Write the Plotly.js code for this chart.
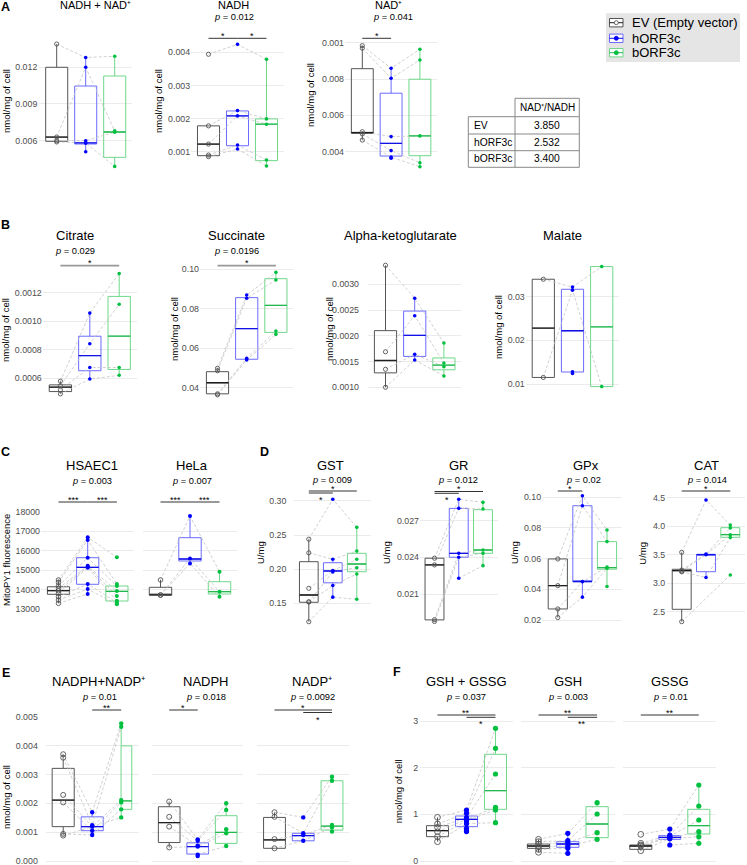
<!DOCTYPE html>
<html><head><meta charset="utf-8">
<script src="https://cdn.plot.ly/plotly-3.0.1.min.js"></script>
<style>html,body{margin:0;padding:0;background:#fff}#chart{width:747px;height:865px}</style>
</head><body><div id="chart"></div>
<script>
const W = 747, H = 865;
const FONT = 'Liberation Sans, Arial, Helvetica, sans-serif';
const groups = ['EV (Empty vector)', 'hORF3c', 'bORF3c'];

// ---- Panel A: NADH + NAD+ ----
const A1_ev = [0.0139, 0.0063, 0.0060, 0.0059];
const A1_h = [0.0128, 0.0120, 0.0060, 0.0058, 0.0051];
const A1_b = [0.0129, 0.0068, 0.0067, 0.0039];
const A1_box = [[0.0059, 0.00595, 0.0063, 0.0120, 0.0139], [0.0051, 0.00573, 0.00582, 0.01047, 0.0128], [0.0039, 0.00464, 0.00671, 0.01129, 0.0129]];
const A1_ticks = [0.006, 0.009, 0.012], A1_tt = ['0.006', '0.009', '0.012'];
// NADH
const A2_ev = [0.00394, 0.00178, 0.00123, 0.0009, 0.00085];
const A2_h = [0.00424, 0.00224, 0.00208, 0.0012, 0.00108];
const A2_b = [0.00379, 0.00199, 0.00183, 0.00075, 0.00057];
const A2_box = [[0.00085, 0.00088, 0.00123, 0.00178, 0.00178], [0.00108, 0.00118, 0.00208, 0.00223, 0.00224], [0.00057, 0.00073, 0.00183, 0.00199, 0.00379]];
const A2_ticks = [0.001, 0.002, 0.003, 0.004], A2_tt = ['0.001', '0.002', '0.003', '0.004'];
// NAD+
const A3_ev = [0.00984, 0.0097, 0.0051, 0.00498, 0.00464];
const A3_h = [0.00859, 0.00804, 0.00483, 0.00406, 0.0037, 0.00364];
const A3_b = [0.00964, 0.00905, 0.00487, 0.00339, 0.00317];
const A3_box = [[0.00464, 0.00501, 0.00505, 0.00857, 0.00984], [0.00364, 0.00376, 0.00446, 0.00722, 0.00859], [0.00317, 0.00378, 0.00487, 0.00799, 0.00964]];
const A3_ticks = [0.004, 0.006, 0.008, 0.010], A3_tt = ['0.004', '0.006', '0.008', '0.001'];
// NAD+/NADH table
const tableRows = ['EV', 'hORF3c', 'bORF3c'];
const tableVals = ['3.850', '2.532', '3.400'];

// ---- Panel B ----
const B1_ev = [0.00058, 0.000547, 0.000519, 0.000491];
const B1_h = [0.001057, 0.000842, 0.000676, 0.000595];
const B1_b = [0.001334, 0.001119, 0.000676, 0.000621];
const B1_box = [[0.000491, 0.000507, 0.000538, 0.000554, 0.00058], [0.000595, 0.000653, 0.000759, 0.000895, 0.001057], [0.000621, 0.000662, 0.000895, 0.001174, 0.001334]];
const B1_ticks = [0.0006, 0.0008, 0.0010, 0.0012], B1_tt = ['0.0006', '0.0008', '0.0010', '0.0012'];
const B2_ev = [0.0497, 0.0485, 0.0368, 0.0363];
const B2_h = [0.0868, 0.0852, 0.0548, 0.0539];
const B2_b = [0.0983, 0.0944, 0.0686, 0.0669];
const B2_box = [[0.0363, 0.0368, 0.0424, 0.048, 0.0497], [0.0539, 0.0543, 0.0698, 0.0855, 0.0868], [0.0669, 0.0679, 0.0816, 0.0951, 0.0983]];
const B2_ticks = [0.04, 0.06, 0.08, 0.10], B2_tt = ['0.04', '0.06', '0.08', '0.10'];
const B3_ev = [0.00337, 0.00169, 0.00135, 0.0010];
const B3_h = [0.00273, 0.00239, 0.00164, 0.00153];
const B3_b = [0.00186, 0.00147, 0.0014, 0.00122];
const B3_box = [[0.0010, 0.00128, 0.00152, 0.0021, 0.00337], [0.00153, 0.0016, 0.00201, 0.00248, 0.00273], [0.00122, 0.00134, 0.00143, 0.00157, 0.00186]];
const B3_ticks = [0.0010, 0.0015, 0.0020, 0.0025, 0.0030], B3_tt = ['0.0010', '0.0015', '0.0020', '0.0025', '0.0030'];
const B4_ev = [0.034, 0.0115];
const B4_h = [0.0322, 0.0315, 0.0128, 0.0124];
const B4_b = [0.0369, 0.0094];
const B4_box = [[0.0115, 0.0115, 0.0228, 0.034, 0.034], [0.0124, 0.01275, 0.0222, 0.0317, 0.0322], [0.0094, 0.0094, 0.0231, 0.0369, 0.0369]];
const B4_ticks = [0.01, 0.02, 0.03], B4_tt = ['0.01', '0.02', '0.03'];

// ---- Panel C: MitoPY1 ----
const C1_ev = [14497, 14379, 14190, 14072, 13949, 13815, 13641, 13472, 13302];
const C1_h = [16690, 16550, 15640, 15230, 15180, 15130, 14290, 14030, 13780];
const C1_b = [15660, 14290, 14190, 13930, 13677, 13436, 13333, 13251];
const C1_box = [[13302, 13764, 13950, 14150, 14497], [13780, 14277, 15149, 15641, 16687], [13251, 13420, 13917, 14190, 14290]];
const C2_ev = [14500, 13730, 13720];
const C2_h = [17780, 15600, 15350];
const C2_b = [14923, 13897, 13641];
const C2_box = [[13720, 13725, 13730, 14123, 14500], [15350, 15472, 15574, 16667, 17780], [13641, 13780, 13897, 14410, 14923]];
const C_ticks = [13000, 14000, 15000, 16000, 17000, 18000], C_tt = ['13000', '14000', '15000', '16000', '17000', '18000'];

// ---- Panel D: enzymes ----
const D1_ev = [0.244, 0.224, 0.172, 0.152, 0.152, 0.123];
const D1_h = [0.3025, 0.2145, 0.198, 0.196, 0.176, 0.159];
const D1_b = [0.2614, 0.2267, 0.2145, 0.2022, 0.193, 0.1559];
const D1_box = [[0.123, 0.1515, 0.1622, 0.211, 0.244], [0.159, 0.18, 0.1974, 0.2095, 0.2145], [0.1559, 0.1963, 0.2076, 0.2233, 0.2614]];
const D1_ticks = [0.15, 0.20, 0.25, 0.30], D1_tt = ['0.15', '0.20', '0.25', '0.30'];
const D2_ev = [0.02393, 0.02338, 0.0189, 0.01875];
const D2_h = [0.02875, 0.02801, 0.02433, 0.02401, 0.02229];
const D2_b = [0.0285, 0.02796, 0.0246, 0.02433, 0.02332];
const D2_box = [[0.01875, 0.01888, 0.02338, 0.02393, 0.02393], [0.02229, 0.02401, 0.02433, 0.02801, 0.02875], [0.02332, 0.02433, 0.0246, 0.0279, 0.0285]];
const D2_ticks = [0.021, 0.024, 0.027], D2_tt = ['0.021', '0.024', '0.027'];
const D3_ev = [0.0598, 0.0424, 0.0272, 0.0216];
const D3_h = [0.101, 0.0945, 0.045, 0.0349];
const D3_b = [0.0787, 0.0711, 0.0545, 0.0538, 0.0418];
const D3_box = [[0.0216, 0.0272, 0.0424, 0.0598, 0.0598], [0.0349, 0.045, 0.045, 0.0945, 0.101], [0.0418, 0.0531, 0.0541, 0.0711, 0.0787]];
const D3_ticks = [0.02, 0.04, 0.06, 0.08, 0.10], D3_tt = ['0.02', '0.04', '0.06', '0.08', '0.10'];
const D4_ev = [3.542, 3.23, 3.21, 3.20, 2.325];
const D4_h = [4.46, 3.51, 3.50, 3.10];
const D4_b = [4.02, 3.97, 3.85, 3.80, 3.144];
const D4_box = [[2.325, 2.542, 3.219, 3.244, 3.542], [3.103, 3.202, 3.5, 3.507, 3.507], [3.80, 3.805, 3.851, 3.974, 4.021]];
const D4_ticks = [2.5, 3.0, 3.5, 4.0, 4.5], D4_tt = ['2.5', '3.0', '3.5', '4.0', '4.5'];

// ---- Panel E: NADPH ----
const E1_ev = [0.0037, 0.00358, 0.00229, 0.00203, 0.00094, 0.00088];
const E1_h = [0.00169, 0.00124, 0.00119, 0.00105, 0.0009];
const E1_b = [0.00477, 0.00465, 0.00211, 0.00203, 0.00179, 0.00151];
const E1_box = [[0.00088, 0.00119, 0.00211, 0.00321, 0.0037], [0.0009, 0.00105, 0.00119, 0.00153, 0.00169], [0.00151, 0.00179, 0.00208, 0.00399, 0.00477]];
const E2_ev = [0.00206, 0.00153, 0.00119, 0.00047];
const E2_h = [0.00075, 0.0007, 0.00053, 0.0005, 0.00022, 0.00017];
const E2_b = [0.0020, 0.00177, 0.0011, 0.00096, 0.00052];
const E2_box = [[0.00047, 0.00064, 0.00133, 0.00188, 0.00206], [0.00017, 0.00024, 0.0005, 0.00063, 0.00075], [0.00052, 0.00061, 0.00099, 0.00157, 0.0020]];
const E3_ev = [0.00169, 0.00153, 0.00076, 0.00044];
const E3_h = [0.00151, 0.00096, 0.0009, 0.0007];
const E3_b = [0.00292, 0.00278, 0.00125, 0.00117, 0.00102];
const E3_box = [[0.00044, 0.00044, 0.00073, 0.00151, 0.00169], [0.0007, 0.0007, 0.00088, 0.00096, 0.00096], [0.00102, 0.00107, 0.00121, 0.00278, 0.00292]];
const E_ticks = [0, 0.001, 0.002, 0.003, 0.004, 0.005], E_tt = ['0.000', '0.001', '0.002', '0.003', '0.004', '0.005'];

// ---- Panel F: glutathione ----
const F1_ev = [0.936, 0.793, 0.722, 0.628, 0.521, 0.414];
const F1_h = [1.093, 1.021, 0.93, 0.89, 0.86, 0.80, 0.70, 0.65, 0.63];
const F1_b = [2.843, 2.414, 1.864, 1.15, 1.093, 0.821];
const F1_box = [[0.414, 0.521, 0.65, 0.757, 0.936], [0.628, 0.736, 0.893, 0.964, 1.093], [0.821, 1.107, 1.507, 2.286, 2.843]];
const F2_ev = [0.464, 0.414, 0.364, 0.307, 0.25, 0.186];
const F2_h = [0.593, 0.436, 0.393, 0.321, 0.271, 0.164];
const F2_b = [1.25, 1.007, 0.607, 0.464];
const F2_box = [[0.186, 0.271, 0.321, 0.364, 0.464], [0.164, 0.293, 0.364, 0.414, 0.593], [0.464, 0.5, 0.793, 1.164, 1.25]];
const F3_ev = [0.571, 0.379, 0.343, 0.321, 0.221];
const F3_h = [0.686, 0.557, 0.521, 0.5, 0.479, 0.343];
const F3_b = [1.628, 1.178, 0.879, 0.628, 0.521, 0.379];
const F3_box = [[0.221, 0.25, 0.321, 0.343, 0.379], [0.343, 0.464, 0.507, 0.543, 0.686], [0.379, 0.579, 0.757, 1.107, 1.628]];
const F_ticks = [0, 1, 2, 3], F_tt = ['0', '1', '2', '3'];

// ---- styles ----
const boxLine = ['#555555', '#6b6bff', '#6fd88a'];
const medLine = ['#1e1e1e', '#1212e6', '#25b850'];
const ptCol = ['#555555', '#0000ff', '#00c040'];
const GRAY = '#999999', DARK = '#333333';

// ---- layout of subplots (pixel positions) ----
const P = [
  {pts: [A1_ev, A1_h, A1_b], box: A1_box, c1: 56.7, sp: 29, cal: [0.012, 67.3, 0.006, 140.7], yr: [0.0036, 0.0142], tv: A1_ticks, tt: A1_tt, lab: true, gap: 1, ms: 3.6, bw: 0.76, sig: []},
  {pts: [A2_ev, A2_h, A2_b], box: A2_box, c1: 208.5, sp: 29, cal: [0.004, 52.3, 0.001, 151.7], yr: [0.0004, 0.00435], tv: A2_ticks, tt: A2_tt, lab: true, gap: 0, ms: 3.6, bw: 0.76, sig: [[0, 1, 38.3, '*', DARK, 'a'], [1, 2, 38.3, '*', DARK, 'a']]},
  {pts: [A3_ev, A3_h, A3_b], box: A3_box, c1: 362.3, sp: 28.8, cal: [0.010, 42.7, 0.004, 151.7], yr: [0.0029, 0.0103], tv: A3_ticks, tt: A3_tt, lab: true, gap: 0, ms: 3.6, bw: 0.76, sig: [[0, 1, 38.3, '*', DARK, 'a']]},
  {pts: [B1_ev, B1_h, B1_b], box: B1_box, c1: 60.4, sp: 29.4, cal: [0.0012, 292.7, 0.0006, 378.3], yr: [0.00046, 0.00137], tv: B1_ticks, tt: B1_tt, lab: true, gap: 0, ms: 3.6, bw: 0.76, sig: [[0, 2, 265.7, '*', GRAY, 'a']]},
  {pts: [B2_ev, B2_h, B2_b], box: B2_box, c1: 217.5, sp: 29.2, cal: [0.10, 269, 0.04, 387.5], yr: [0.0345, 0.1025], tv: B2_ticks, tt: B2_tt, lab: true, gap: 0, ms: 3.6, bw: 0.76, sig: [[0, 2, 265.7, '*', GRAY, 'a']]},
  {pts: [B3_ev, B3_h, B3_b], box: B3_box, c1: 385.5, sp: 29.2, cal: [0.003, 284.3, 0.001, 387.3], yr: [0.00088, 0.0035], tv: B3_ticks, tt: B3_tt, lab: true, gap: 8, ms: 3.6, bw: 0.76, sig: []},
  {pts: [B4_ev, B4_h, B4_b], box: B4_box, c1: 543.3, sp: 29.2, cal: [0.03, 296.7, 0.01, 384], yr: [0.0082, 0.038], tv: B4_ticks, tt: B4_tt, lab: true, gap: 0, ms: 3.6, bw: 0.76, sig: []},
  {pts: [C1_ev, C1_h, C1_b], box: C1_box, c1: 58.5, sp: 29.2, cal: [18000, 511.7, 13000, 609.2], yr: [12950, 18050], tv: C_ticks, tt: C_tt, lab: true, gap: 0, ms: 4, bw: 0.76, sig: [[0, 1, 502, '***', DARK, 'a'], [1, 2, 502, '***', DARK, 'a']]},
  {pts: [C2_ev, C2_h, C2_b], box: C2_box, c1: 160.5, sp: 29.5, cal: [18000, 511.7, 13000, 609.2], yr: [12950, 18050], tv: C_ticks, tt: C_tt, lab: false, gap: 0, ms: 4, bw: 0.76, sig: [[0, 1, 502, '***', DARK, 'a'], [1, 2, 502, '***', DARK, 'a']]},
  {pts: [D1_ev, D1_h, D1_b], box: D1_box, c1: 308.8, sp: 24, cal: [0.30, 501, 0.15, 603.3], yr: [0.113, 0.312], tv: D1_ticks, tt: D1_tt, lab: true, gap: 7, ms: 3.6, bw: 0.78, sig: [[0, 2, 491, '*', GRAY, 'a'], [0, 1, 493, '*', GRAY, 'b']]},
  {pts: [D2_ev, D2_h, D2_b], box: D2_box, c1: 434.5, sp: 24.25, cal: [0.027, 520.7, 0.021, 594], yr: [0.0184, 0.0292], tv: D2_ticks, tt: D2_tt, lab: true, gap: 0, ms: 3.6, bw: 0.78, sig: [[0, 2, 491.5, '*', DARK, 'a'], [0, 1, 493.3, '*', DARK, 'b']]},
  {pts: [D3_ev, D3_h, D3_b], box: D3_box, c1: 557.8, sp: 24.6, cal: [0.10, 497.3, 0.02, 620], yr: [0.017, 0.1035], tv: D3_ticks, tt: D3_tt, lab: true, gap: 1, ms: 3.6, bw: 0.78, sig: [[0, 1, 491, '*', DARK, 'a']]},
  {pts: [D4_ev, D4_h, D4_b], box: D4_box, c1: 681.7, sp: 24.3, cal: [4.5, 497.7, 2.5, 611.7], yr: [2.22, 4.58], tv: D4_ticks, tt: D4_tt, lab: true, gap: 1, ms: 3.6, bw: 0.78, sig: [[0, 2, 491, '*', DARK, 'a']]},
  {pts: [E1_ev, E1_h, E1_b], box: E1_box, c1: 63.2, sp: 29, cal: [0.005, 716.7, 0, 861], yr: [-0.0001, 0.00502], tv: E_ticks, tt: E_tt, lab: true, gap: 7, ms: 4.4, bw: 0.76, spec: {g: 2, dx: 0.18, w: 0.37}, sig: [[1, 2, 710, '**', GRAY, 'a']]},
  {pts: [E2_ev, E2_h, E2_b], box: E2_box, c1: 169.2, sp: 28.5, cal: [0.005, 716.7, 0, 861], yr: [-0.0001, 0.00502], tv: E_ticks, tt: E_tt, lab: false, gap: 0, ms: 4.4, bw: 0.76, sig: [[0, 1, 710, '*', GRAY, 'a']]},
  {pts: [E3_ev, E3_h, E3_b], box: E3_box, c1: 274.5, sp: 28.75, cal: [0.005, 716.7, 0, 861], yr: [-0.0001, 0.00502], tv: E_ticks, tt: E_tt, lab: false, gap: 0, ms: 4.4, bw: 0.76, sig: [[0, 2, 710, '*', GRAY, 'a'], [1, 2, 712.5, '*', DARK, 'b']]},
  {pts: [F1_ev, F1_h, F1_b], box: F1_box, c1: 437.5, sp: 29, cal: [3, 721, 0, 861], yr: [-0.07, 3.07], tv: F_ticks, tt: F_tt, lab: true, gap: 1, ms: 5.2, bw: 0.76, sig: [[0, 2, 715, '**', DARK, 'a'], [1, 2, 717.3, '*', DARK, 'b']]},
  {pts: [F2_ev, F2_h, F2_b], box: F2_box, c1: 538.5, sp: 29.3, cal: [3, 721, 0, 861], yr: [-0.07, 3.07], tv: F_ticks, tt: F_tt, lab: false, gap: 0, ms: 5.2, bw: 0.76, sig: [[0, 2, 715, '**', DARK, 'a'], [1, 2, 717.3, '**', DARK, 'b']]},
  {pts: [F3_ev, F3_h, F3_b], box: F3_box, c1: 640.8, sp: 29, cal: [3, 721, 0, 861], yr: [-0.07, 3.07], tv: F_ticks, tt: F_tt, lab: false, gap: 0, ms: 5.2, bw: 0.76, sig: [[0, 2, 715, '**', DARK, 'a']]}
];

const data = [];
const layout = {
  width: W, height: H, margin: {l: 0, r: 0, t: 0, b: 0},
  paper_bgcolor: '#ffffff', plot_bgcolor: 'rgba(0,0,0,0)',
  showlegend: false, font: {family: FONT, color: '#000'},
  shapes: [], annotations: []
};
const px = x => x / W, py = y => 1 - y / H;

P.forEach((p, i) => {
  const n = i + 1;
  const xr = n === 1 ? 'x' : 'x' + n, yrf = n === 1 ? 'y' : 'y' + n;
  const xa = n === 1 ? 'xaxis' : 'xaxis' + n, ya = n === 1 ? 'yaxis' : 'yaxis' + n;
  const x0 = p.c1 - 0.6 * p.sp, x1 = p.c1 + 2.6 * p.sp;
  const s = (p.cal[3] - p.cal[1]) / (p.cal[2] - p.cal[0]);
  const pix = v => p.cal[1] + (v - p.cal[0]) * s;
  const top = pix(p.yr[1]), bot = pix(p.yr[0]);
  layout[xa] = {domain: [px(x0), px(x1)], range: [-0.6, 2.6], anchor: yrf, showgrid: false, zeroline: false,
    showticklabels: false, ticks: '', showline: false, fixedrange: true};
  layout[ya] = {domain: [py(bot), py(top)], range: p.yr, anchor: xr, tickmode: 'array', tickvals: p.tv, ticktext: p.tt,
    showticklabels: p.lab, showgrid: true, gridcolor: '#ebebeb', gridwidth: 1, zeroline: false, ticks: '', showline: false,
    tickfont: {family: FONT, size: 8.8, color: '#4d4d4d'}, ticklabelstandoff: p.gap, ticklabeloverflow: 'allow', fixedrange: true};

  // paired replicate lines
  const lx = [], ly = [];
  const maxN = Math.max(p.pts[0].length, p.pts[1].length, p.pts[2].length);
  for (let r = 0; r < maxN; r++) {
    const sx = [], sy = [];
    for (let g = 0; g < 3; g++) if (p.pts[g][r] !== undefined) { sx.push(g); sy.push(p.pts[g][r]); }
    if (sx.length > 1) { lx.push(...sx, null); ly.push(...sy, null); }
  }
  data.push({type: 'scatter', mode: 'lines', x: lx, y: ly, xaxis: xr, yaxis: yrf, hoverinfo: 'skip',
    line: {color: '#c4c4c4', width: 0.8, dash: '3px,2px'}, cliponaxis: false});

  // boxes
  for (let g = 0; g < 3; g++) {
    const b = p.box[g];
    const special = p.spec && p.spec.g === g;
    const bx = special ? g + p.spec.dx : g;
    const w = special ? p.spec.w : p.bw;
    data.push({type: 'box', x: [bx], q1: [b[1]], median: [b[2]], q3: [b[3]],
      lowerfence: [special ? b[1] : b[0]], upperfence: [special ? b[3] : b[4]],
      width: w, whiskerwidth: 0, boxpoints: false, xaxis: xr, yaxis: yrf, hoverinfo: 'skip',
      line: {color: boxLine[g], width: 1}, fillcolor: 'rgba(0,0,0,0)', name: groups[g]});
    if (special) {
      data.push({type: 'scatter', mode: 'lines', x: [g, g, null, g, g], y: [b[3], b[4], null, b[0], b[1]],
        xaxis: xr, yaxis: yrf, hoverinfo: 'skip', line: {color: boxLine[g], width: 1}});
    }
    data.push({type: 'scatter', mode: 'lines', x: [bx - w / 2, bx + w / 2], y: [b[2], b[2]], xaxis: xr, yaxis: yrf,
      hoverinfo: 'skip', line: {color: medLine[g], width: 1.3}});
  }
  // points
  for (let g = 0; g < 3; g++) {
    data.push({type: 'scatter', mode: 'markers', x: p.pts[g].map(() => g), y: p.pts[g], xaxis: xr, yaxis: yrf,
      hoverinfo: 'skip', cliponaxis: false,
      marker: g === 0 ? {symbol: 'circle-open', size: p.ms + 0.6, color: ptCol[0], line: {width: 0.9, color: ptCol[0]}}
                      : {symbol: 'circle', size: p.ms, color: ptCol[g]}});
  }
  // significance bars
  p.sig.forEach(sg => {
    const [g1, g2, by, txt, col, pos] = sg;
    layout.shapes.push({type: 'line', xref: xr, yref: 'paper', x0: g1, x1: g2, y0: py(by), y1: py(by),
      line: {color: col, width: col === GRAY ? 1.8 : 1}});
    layout.annotations.push({xref: xr, yref: 'paper', x: (g1 + g2) / 2, y: py(pos === 'a' ? by - 2.5 : by + 7),
      text: txt, showarrow: false, font: {family: FONT, size: 9, color: '#000'}, xanchor: 'center', yanchor: 'middle'});
  });
});

// ---- text ----
function ann(x, y, text, size, extra) {
  layout.annotations.push(Object.assign({xref: 'paper', yref: 'paper', x: px(x), y: py(y), text: text, showarrow: false,
    xanchor: 'center', yanchor: 'middle', font: {family: FONT, size: size, color: '#000'}}, extra || {}));
}
// panel letters
[['A', 6, 7.5], ['B', 6, 225], ['C', 6, 451.7], ['D', 264, 451.7], ['E', 6, 672.7], ['F', 397, 672.3]]
  .forEach(l => ann(l[1], l[2], '<b>' + l[0] + '</b>', 12.5));
// subplot titles
[[95, 4.5, 'NADH + NAD⁺', 11], [233, 4.5, 'NADH', 11], [388, 4.5, 'NAD⁺', 11],
 [75, 236, 'Citrate', 13], [236.7, 236, 'Succinate', 13], [400, 236, 'Alpha-ketoglutarate', 13], [562.7, 236, 'Malate', 13],
 [91.7, 466, 'HSAEC1', 13], [191.7, 466, 'HeLa', 13],
 [330, 466, 'GST', 13], [459, 466, 'GR', 13], [586, 466, 'GPx', 13], [706.7, 466, 'CAT', 13],
 [98.3, 681, 'NADPH+NADP⁺', 13], [206, 681, 'NADPH', 13], [312.3, 681, 'NADP⁺', 13],
 [466, 681, 'GSH + GSSG', 13], [568.3, 681, 'GSH', 13], [670, 681, 'GSSG', 13]]
  .forEach(t => ann(t[0], t[1], t[2], t[3]));
// p-values
[[234, 17.5, '0.012'], [393, 17.5, '0.041'], [75, 250.7, '0.029'], [236.7, 250.7, '0.0196'],
 [91.7, 480.7, '0.003'], [191.7, 480.7, '0.007'],
 [331.7, 480, '0.009'], [458.3, 480, '0.012'], [583.3, 480, '0.02'], [706.7, 480, '0.014'],
 [99.3, 697.3, '0.01'], [206, 697.3, '0.018'], [312.7, 697.3, '0.0092'],
 [466, 696.7, '0.037'], [568.3, 696.7, '0.003'], [670, 696.7, '0.01']]
  .forEach(t => ann(t[0], t[1], '<i>p</i> = ' + t[2], 9.3));
// y-axis titles
[[6, 101, 'nmol/mg of cell'], [158, 101, 'nmol/mg of cell'], [310, 95, 'nmol/mg of cell'],
 [6, 330, 'nmol/mg of cell'], [174, 329, 'nmol/mg of cell'], [329, 329, 'nmol/mg of cell'], [498, 327, 'nmol/mg of cell'],
 [6, 560, 'MitoPY1 fluorescence'],
 [260, 553, 'U/mg'], [386, 553, 'U/mg'], [514, 553, 'U/mg'], [641.7, 553, 'U/mg'],
 [6, 797, 'nmol/mg of cell'], [398.3, 791, 'nmol/mg of cell']]
  .forEach(t => ann(t[0], t[1], t[2], 9.5, {textangle: -90}));

// ---- legend ----
layout.shapes.push({type: 'rect', xref: 'paper', yref: 'paper', x0: px(606), x1: px(740), y0: py(62), y1: py(13.3),
  fillcolor: '#e5e5e5', line: {width: 0}, layer: 'below'});
const legRows = [22.7, 38.3, 52.7];
groups.forEach((g, k) => {
  const r = legRows[k];
  layout.shapes.push({type: 'rect', xref: 'paper', yref: 'paper', x0: px(609.5), x1: px(623), y0: py(r + 4.2), y1: py(r - 4.2),
    fillcolor: '#ffffff', line: {color: boxLine[k], width: 1}});
  layout.shapes.push({type: 'line', xref: 'paper', yref: 'paper', x0: px(609.5), x1: px(623), y0: py(r), y1: py(r),
    line: {color: medLine[k], width: 1}});
  layout.shapes.push({type: 'circle', xref: 'paper', yref: 'paper', x0: px(614.3), x1: px(618.3), y0: py(r + 2), y1: py(r - 2),
    fillcolor: k === 0 ? '#ffffff' : ptCol[k], line: {color: ptCol[k], width: 0.9}});
  ann(630, r, g, 13, {xanchor: 'left'});
});

// ---- NAD+/NADH table ----
const tl = {color: '#888888', width: 1};
[[468.3, 579.3, 116.7], [468.3, 579.3, 134], [468.3, 579.3, 150.7], [468.3, 579.3, 167.3], [515, 579.3, 98.3]]
  .forEach(h => layout.shapes.push({type: 'line', xref: 'paper', yref: 'paper', x0: px(h[0]), x1: px(h[1]), y0: py(h[2]), y1: py(h[2]), line: tl}));
[[468.3, 116.7, 167.3], [515, 98.3, 167.3], [579.3, 98.3, 167.3]]
  .forEach(v => layout.shapes.push({type: 'line', xref: 'paper', yref: 'paper', x0: px(v[0]), x1: px(v[0]), y0: py(v[1]), y1: py(v[2]), line: tl}));
ann(547, 107.5, 'NAD⁺/NADH', 10);
const rowY = [125.3, 142.3, 159];
tableRows.forEach((r, k) => { ann(471.5, rowY[k], r, 10.3, {xanchor: 'left'}); ann(547, rowY[k], tableVals[k], 10.3); });

Plotly.newPlot('chart', data, layout, {displayModeBar: false, staticPlot: true});
</script></body></html>
